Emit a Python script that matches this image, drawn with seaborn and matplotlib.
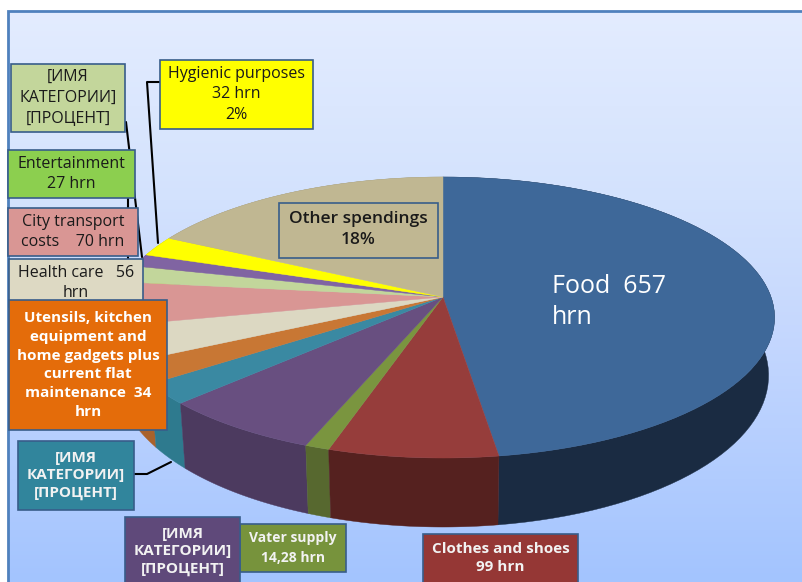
import numpy as np
import matplotlib
matplotlib.use('Agg')
import matplotlib.pyplot as plt
from matplotlib.colors import LinearSegmentedColormap
from matplotlib.patches import Polygon, Rectangle
import seaborn as sns

# Slices, clockwise from 12 o'clock (hrn, unlabelled ones)
categories = ['Food', 'Clothes and shoes', 'Water supply', 'Purple', 'Teal', 'Utensils',
              'Health care', 'City transport', 'Light green', 'Entertainment', 'Hygienic', 'Other']
values = [657, 99, 14.28, 95, 33, 34, 56, 70, 27, 20, 32, 241]
top_colors = ['#3E6899', '#963D3B', '#7A953F', '#684F80', '#3A89A2', '#C87734',
              '#DCD8C2', '#D99694', '#C2D69B', '#8064A2', '#FFFF00', '#C0B792']
side_colors = ['#1A2B42', '#55211F', '#57682F', '#4C3A5F', '#2E7A8E', '#A9622B',
               '#A8A594', '#A87270', '#93A276', '#614C7B', '#BFBF00', '#918A6E']

sns.set_theme(style='white')
plt.rcParams['font.family'] = ['Open Sans', 'DejaVu Sans']

fig = plt.figure(figsize=(8.03, 5.82), dpi=100)
ax = fig.add_axes([0, 0, 1, 1])

wedges, _ = ax.pie(values, startangle=90, counterclock=False, colors=top_colors)
ax.set_aspect('auto')
ax.set_xlim(0, 803)
ax.set_ylim(582, 0)
ax.axis('off')

# background panel
bg = LinearSegmentedColormap.from_list('bg', [(0, '#E3ECFF'), (0.33, '#D3E2FD'),
                                              (0.55, '#C6D8FE'), (1, '#A3C4FF')])
ax.imshow(np.linspace(0, 1, 256).reshape(-1, 1), cmap=bg, aspect='auto',
          extent=(8, 803, 582, 11), zorder=0)
ax.set_xlim(0, 803)
ax.set_ylim(582, 0)
ax.plot([8, 8, 803], [582, 11, 11], color='#4F81BD', lw=2, zorder=1, solid_joinstyle='miter')

# perspective of the disc
CX, CY, A, B, C = 443, 297, 137.5, 0.146, 328


def project(t):
    x, y = np.cos(np.radians(t)), np.sin(np.radians(t))
    return CX + C * x / (1 + B * y), CY - A * y / (1 + B * y)


def project_low(t):
    sx, sy = project(t)
    return CX + (sx - CX) * 0.982, sy + 56 - 13 * np.sin(np.radians(t))


tops = []
sides = []
for w, tc, sc in zip(wedges, top_colors, side_colors):
    t = np.linspace(w.theta1, w.theta2, 80)
    w.remove()
    ux, uy = project(t)
    lx, ly = project_low(t)
    mid = np.sin(np.radians(t.mean()))
    sides.append((-mid, np.r_[ux, lx[::-1]], np.r_[uy, ly[::-1]], sc))
    tops.append((np.r_[CX, ux], np.r_[CY, uy], tc))

for _, x, y, c in sorted(sides, key=lambda s: s[0]):
    ax.add_patch(Polygon(np.c_[x, y], fc=c, ec=c, lw=0.3, zorder=2))
for x, y, c in tops:
    ax.add_patch(Polygon(np.c_[x, y], fc=c, ec=c, lw=0.3, zorder=3))

# leader lines
for lx, ly in [([160, 147, 158], [82, 82, 243]),
               ([126, 142], [122, 257]),
               ([128, 128], [198, 259]),
               ([134, 147, 171], [474, 474, 462])]:
    ax.plot(lx, ly, color='black', lw=1.5, zorder=4)


def box(x0, y0, x1, y1, color, lines, tcolor='#1a1a1a', size=11.5, weight='normal', z=5, dy=0, ls=1.41):
    ax.add_patch(Rectangle((x0, y0), x1 - x0, y1 - y0, fc=color, ec='#385D8A', lw=1.2, zorder=z))
    ax.text((x0 + x1) / 2, (y0 + y1) / 2 + dy, '\n'.join(lines), ha='center', va='center',
            color=tcolor, fontsize=size, fontweight=weight, linespacing=ls, zorder=z + 0.5)


box(11, 64, 125, 132, '#C3D69B', ['[ИМЯ', 'КАТЕГОРИИ]', '[ПРОЦЕНТ]'], size=11.5)
box(160, 60, 313, 129, '#FFFF00', ['Hygienic purposes', '32 hrn', '2%'])
box(8, 150, 135, 198, '#8CCF4F', ['Entertainment', '27 hrn'])
box(8, 208, 138, 256, '#D99694', ['City transport', 'costs    70 hrn'])
box(9, 259, 143, 307, '#DDD9C3', ['Health care   56', 'hrn'])
box(9, 300, 167, 430, '#E46C0A', ['Utensils, kitchen', 'equipment and', 'home gadgets plus',
                                  'current flat', 'maintenance  34', 'hrn'],
    tcolor='white', size=11, weight='bold', z=6, ls=1.45)
box(18, 441, 134, 510, '#31859C', ['[ИМЯ', 'КАТЕГОРИИ]', '[ПРОЦЕНТ]'],
    tcolor='#F2F2F2', size=11, weight='bold', ls=1.35)
box(240, 524, 346, 572, '#77933C', ['Vater supply', '14,28 hrn'],
    tcolor='#F2F2F2', size=10, weight='bold', ls=1.5)
box(125, 517, 240, 586, '#5F497A', ['[ИМЯ', 'КАТЕГОРИИ]', '[ПРОЦЕНТ]'],
    tcolor='#F2F2F2', size=11, weight='bold', z=7, ls=1.3)
box(423, 534, 578, 586, '#953735', ['Clothes and shoes', '99 hrn'],
    tcolor='#F2F2F2', size=11, weight='bold', dy=-2, ls=1.3)
box(279, 203, 438, 258, '#C0B792', ['Other spendings', '18%'], size=12.5, weight='semibold', ls=1.35, dy=-1)

ax.text(552, 302, 'Food  657\nhrn', color='white', fontsize=18, ha='left', va='center',
        linespacing=1.3, zorder=6)

fig.savefig('out.png', dpi=100)
